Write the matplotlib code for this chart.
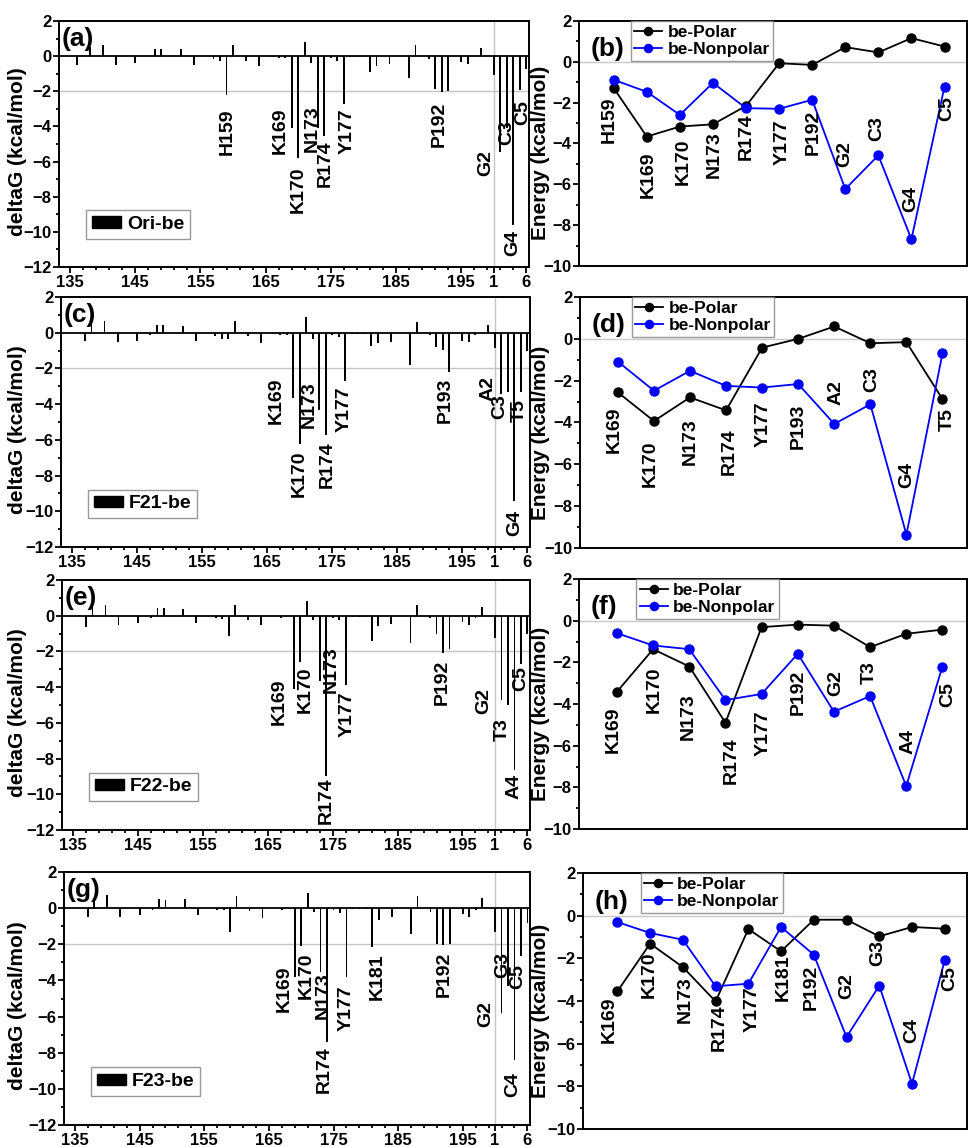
import matplotlib
matplotlib.use('Agg')
import matplotlib.pyplot as plt
from matplotlib.patches import Patch
from matplotlib.legend_handler import HandlerLine2D
from matplotlib.ticker import MultipleLocator, FixedLocator
import numpy as np

plt.rcParams['font.family'] = ['Liberation Sans', 'DejaVu Sans']
plt.rcParams['font.weight'] = 'bold'
plt.rcParams['axes.linewidth'] = 1.4

# ---------------- data: per-residue decomposition (left panels) ----------------
res_a = [136, 138, 140, 142, 145, 148, 149, 152, 154, 157, 158, 159, 160, 162, 164, 166, 167, 168,
         169, 170, 171, 172, 173, 174, 175, 176, 177, 178, 179, 180, 181, 182, 184, 187, 188, 190,
         191, 192, 193, 195, 196, 198]
dg_a = [-0.5, 0.52, 0.63, -0.5, -0.4, 0.42, 0.42, 0.4, -0.5, -0.17, -0.27, -2.23, 0.62, -0.25, -0.56, -0.03, -0.08, -0.1,
        -4.1, -5.8, 0.79, -0.37, -4.1, -4.55, -0.1, -0.25, -2.75, -0.05, -0.05, -0.05, -0.92, -0.54, -0.46, -1.27, 0.62, -0.17,
        -1.85, -2.04, -1.96, -0.31, -0.44, 0.46]
nt_a = [-1.1, -5.45, -4.1, -9.6, -1.95, -0.75]

res_c = [137, 138, 140, 142, 145, 147, 148, 149, 152, 154, 157, 158, 159, 160, 162, 164, 167, 168,
         169, 170, 171, 172, 173, 174, 175, 176, 177, 178, 179, 180, 181, 182, 184, 187, 188, 190,
         191, 192, 193, 195, 196, 197, 199]
dg_c = [-0.48, 0.53, 0.65, -0.53, -0.44, -0.1, 0.46, 0.46, 0.4, -0.44, -0.19, -0.33, -0.33, 0.67, -0.19, -0.57, -0.1, -0.1,
        -3.65, -6.25, 0.88, -0.33, -4.35, -5.7, -0.15, -0.25, -2.7, -0.05, -0.05, -0.05, -0.72, -0.59, -0.5, -1.83, 0.6, -0.15,
        -0.78, -0.95, -2.2, -0.46, -0.53, -0.1, 0.45]
nt_c = [-0.84, -3.45, -3.3, -9.45, -3.3, -1.0]

res_e = [137, 138, 140, 142, 145, 147, 148, 149, 152, 154, 157, 158, 159, 160, 162, 164, 167,
         169, 170, 171, 172, 173, 174, 175, 176, 177, 178, 179, 180, 181, 182, 184, 187, 188, 190,
         191, 192, 193, 195, 196, 197, 198]
dg_e = [-0.64, 0.58, 0.62, -0.5, -0.41, -0.1, 0.41, 0.41, 0.4, -0.41, -0.1, -0.2, -1.12, 0.58, -0.22, -0.5, -0.13,
        -4.08, -2.6, 0.84, -0.22, -3.65, -8.95, -0.13, -0.26, -3.9, -0.05, -0.05, -0.05, -1.42, -0.6, -0.49, -1.5, 0.58, -0.13,
        -1.0, -2.1, -1.85, -0.36, -0.5, -0.13, 0.49]
nt_e = [-1.25, -4.7, -5.0, -8.65, -2.7, -1.0]

res_g = [137, 138, 140, 142, 145, 147, 148, 149, 152, 154, 157, 158, 159, 160, 162, 164, 167,
         169, 170, 171, 172, 173, 174, 175, 176, 177, 178, 179, 180, 181, 182, 184, 187, 188, 190,
         191, 192, 193, 195, 196, 197, 198]
dg_g = [-0.5, 0.55, 0.7, -0.5, -0.4, -0.1, 0.5, 0.44, 0.5, -0.4, -0.1, -0.1, -1.33, 0.65, -0.15, -0.53, -0.1,
        -3.83, -2.1, 0.84, -0.19, -3.55, -7.4, -0.1, -0.25, -3.8, -0.05, -0.05, -0.05, -2.15, -0.63, -0.5, -1.45, 0.65, -0.19,
        -2.0, -2.05, -2.0, -0.34, -0.5, -0.1, 0.55]
nt_g = [-1.3, -5.8, -4.3, -8.4, -2.65, -0.8]

# residue labels on the bar panels
tags_a = ['H159', 'K169', 'K170', 'N173', 'R174', 'Y177', 'P192', 'G2', 'C3', 'G4', 'C5']
tags_c = ['K169', 'K170', 'N173', 'R174', 'Y177', 'P193', 'A2', 'C3', 'T5', 'G4']
tags_e = ['K169', 'K170', 'N173', 'R174', 'Y177', 'P192', 'G2', 'T3', 'C5', 'A4']
tags_g = ['K169', 'K170', 'N173', 'R174', 'Y177', 'K181', 'P192', 'G2', 'G3', 'C5', 'C4']

# ---------------- data: polar / nonpolar split (right panels) ----------------
names_b = ['H159', 'K169', 'K170', 'N173', 'R174', 'Y177', 'P192', 'G2', 'C3', 'G4', 'C5']
polar_b = [-1.29, -3.66, -3.17, -3.06, -2.16, -0.07, -0.15, 0.72, 0.46, 1.16, 0.75]
nonpolar_b = [-0.88, -1.47, -2.6, -1.03, -2.27, -2.3, -1.86, -6.23, -4.58, -8.69, -1.21]

names_d = ['K169', 'K170', 'N173', 'R174', 'Y177', 'P193', 'A2', 'C3', 'G4', 'T5']
polar_d = [-2.56, -3.93, -2.8, -3.42, -0.42, 0.0, 0.59, -0.21, -0.16, -2.88]
nonpolar_d = [-1.09, -2.48, -1.53, -2.25, -2.33, -2.16, -4.07, -3.13, -9.36, -0.7]

names_f = ['K169', 'K170', 'N173', 'R174', 'Y177', 'P192', 'G2', 'T3', 'A4', 'C5']
polar_f = [-3.41, -1.37, -2.2, -4.9, -0.31, -0.19, -0.24, -1.27, -0.63, -0.43]
nonpolar_f = [-0.6, -1.19, -1.37, -3.81, -3.52, -1.59, -4.37, -3.62, -7.94, -2.2]

names_h = ['K169', 'K170', 'N173', 'R174', 'Y177', 'K181', 'P192', 'G2', 'G3', 'C4', 'C5']
polar_h = [-3.55, -1.31, -2.41, -4.02, -0.63, -1.67, -0.19, -0.19, -0.97, -0.53, -0.61]
nonpolar_h = [-0.3, -0.81, -1.13, -3.31, -3.19, -0.53, -1.83, -5.69, -3.28, -7.88, -2.09]

# ---------------- layout (label placement, axes boxes in pixels) ----------------
# (x, top-y) of each rotated residue label, data coordinates
lab_a = [(159.1, -3.0), (167.2, -2.9), (170.0, -6.3), (172.1, -2.8), (174.1, -4.8), (177.5, -3.0),
         (191.7, -2.6), (198.7, -5.35), (202.0, -3.65), (202.9, -9.9), (204.5, -2.5)]
lab_c = [(166.4, -2.52), (170.0, -6.6), (171.4, -2.7), (174.3, -6.07), (176.9, -2.99), (192.4, -2.52),
         (198.9, -2.43), (200.7, -3.46), (203.8, -3.7), (203.0, -9.9)]
lab_e = [(166.7, -3.49), (170.8, -2.83), (174.8, -1.73), (174.0, -9.06), (177.3, -4.25), (191.9, -2.45),
         (198.2, -4.05), (201.1, -5.75), (203.9, -2.83), (202.9, -8.87)]
lab_g = [(167.3, -3.18), (170.8, -2.43), (173.4, -3.55), (173.6, -7.66), (177.0, -4.3), (181.7, -2.52),
         (192.1, -2.43), (198.6, -5.14), (201.2, -2.43), (203.5, -3.1), (202.7, -9.07)]

labx_b = [-0.13, 1.03, 2.1, 3.05, 4.01, 5.08, 6.04, 6.97, 7.96, 8.97, 10.08]
laby_b = [-1.72, -4.39, -3.74, -3.42, -2.51, -2.84, -2.35, -3.9, -2.68, -6.1, -1.7]
labx_d = [-0.11, 0.91, 2.02, 3.09, 4.02, 5.0, 6.06, 7.04, 8.01, 9.12]
laby_d = [-3.23, -4.84, -3.8, -4.28, -3.0, -3.08, -1.96, -1.33, -5.88, -3.33]
labx_f = [-0.11, 1.04, 1.96, 3.16, 4.03, 5.0, 6.06, 6.98, 8.04, 9.14]
laby_f = [-4.13, -2.2, -3.49, -5.58, -4.29, -2.36, -2.36, -1.96, -5.18, -2.93]
labx_h = [-0.25, 0.98, 2.07, 3.12, 4.12, 5.07, 5.91, 7.01, 7.96, 9.0, 10.15]
laby_h = [-3.78, -1.67, -2.84, -4.17, -3.31, -1.83, -2.3, -2.69, -1.13, -4.8, -2.38]

W, H = 970, 1147
fig = plt.figure(figsize=(W / 100, H / 100), dpi=100)


def px_axes(l, t, r, b):
    return fig.add_axes([l / W, 1 - b / H, (r - l) / W, (b - t) / H])


def style_ticks(ax):
    ax.tick_params(which='both', direction='out', width=1.3, labelsize=12, top=False, right=False)
    ax.tick_params(which='major', length=4.5)
    ax.tick_params(which='minor', length=2.5)
    ax.tick_params(axis='x', pad=1.5)
    ax.tick_params(axis='y', pad=1)
    for t in ax.get_xticklabels() + ax.get_yticklabels():
        t.set_fontweight('bold')


class EndMarker(HandlerLine2D):
    # Origin-style legend sample: marker sits near the right end of the line
    def get_xdata(self, legend, xdescent, ydescent, width, height, fontsize):
        return [-xdescent, -xdescent + width], [-xdescent + 0.8 * width]


NT_START = 200  # x position of nucleotide 1


def bar_panel(box, res, dg, nt, legend_name, letter, tags, labpos):
    ax = px_axes(*box)
    nt_x = np.arange(NT_START, NT_START + len(nt))
    ax.axhline(-2, color='#c4c4c4', lw=1.0, zorder=0)
    ax.axvline(NT_START, color='#c4c4c4', lw=1.0, zorder=0)
    ax.bar(res, dg, width=0.28, color='black', zorder=2)
    ax.bar(nt_x, nt, width=0.28, color='black', zorder=2)
    ax.axhline(0, color='black', lw=1.3, zorder=3)
    ax.set_xlim(133.3, 205.4)
    ax.set_ylim(-12, 2)
    ax.set_xticks(list(range(135, 196, 10)) + [NT_START, NT_START + 5])
    ax.set_xticklabels([str(v) for v in range(135, 196, 10)] + ['1', '6'])
    ax.xaxis.set_minor_locator(FixedLocator(np.arange(133, 206, 2)))
    ax.yaxis.set_major_locator(MultipleLocator(2))
    ax.yaxis.set_minor_locator(MultipleLocator(1))
    style_ticks(ax)
    ax.set_ylabel('deltaG (kcal/mol)', fontsize=15, fontweight='bold')
    l, t, r, b = box
    # right edge of the rotated label sits at this pixel column
    ax.yaxis.set_label_coords((27 - l) / (r - l), 0.47)
    ax.text(0.006, 0.975, letter, transform=ax.transAxes, fontsize=19, fontweight='bold', va='top', ha='left')
    for name, (x, y) in zip(tags, labpos):
        ax.text(x, y, name, rotation=90, ha='center', va='top', fontsize=14, fontweight='bold', zorder=4)
    leg = ax.legend(handles=[Patch(facecolor='black', edgecolor='black', label=legend_name)],
                    loc='lower left', bbox_to_anchor=(0.058, 0.115), frameon=True, fancybox=False,
                    prop={'size': 14, 'weight': 'bold'}, handlelength=1.5, handleheight=0.5,
                    handletextpad=0.3, borderpad=0.3, borderaxespad=0)
    leg.get_frame().set_edgecolor('#808080')
    leg.get_frame().set_linewidth(1.0)
    return ax


def line_panel(box, names, polar, nonpolar, letter, labx, laby, leg_x):
    ax = px_axes(*box)
    idx = np.arange(len(names))
    ax.axhline(0, color='#c8c8c8', lw=1.0, zorder=0)
    l1, = ax.plot(idx, polar, '-o', color='black', ms=6.5, lw=1.3, label='be-Polar', zorder=3)
    l2, = ax.plot(idx, nonpolar, '-o', color='#0000ff', ms=6.5, lw=1.3, label='be-Nonpolar', zorder=3)
    ax.set_xlim(-1.05, len(names) - 0.32)
    ax.set_ylim(-10, 2)
    ax.set_xticks([])
    ax.yaxis.set_major_locator(MultipleLocator(2))
    ax.yaxis.set_minor_locator(MultipleLocator(1))
    style_ticks(ax)
    ax.set_ylabel('Energy (kcal/mol)', fontsize=15, fontweight='bold')
    l, t, r, b = box
    ax.yaxis.set_label_coords((550 - l) / (r - l), 0.46)
    ax.text(0.03, 0.935, letter, transform=ax.transAxes, fontsize=19, fontweight='bold', va='top', ha='left')
    for name, x, y in zip(names, labx, laby):
        ax.text(x, y, name, rotation=90, ha='center', va='top', fontsize=14, fontweight='bold', zorder=4)
    leg = ax.legend(handles=[l1, l2], loc='upper left', bbox_to_anchor=(leg_x, 1.0), frameon=True,
                    fancybox=False, prop={'size': 12.5, 'weight': 'bold'}, handlelength=1.6,
                    handletextpad=0.3, borderpad=0.2, labelspacing=0.15, borderaxespad=0,
                    markerscale=0.9, handler_map={l1: EndMarker(), l2: EndMarker()})
    leg.get_frame().set_edgecolor('#808080')
    leg.get_frame().set_linewidth(1.0)
    return ax


bar_panel((59, 21, 529, 267), res_a, dg_a, nt_a, 'Ori-be', '(a)', tags_a, lab_a)
bar_panel((61, 297, 530, 547), res_c, dg_c, nt_c, 'F21-be', '(c)', tags_c, lab_c)
bar_panel((62, 580, 530, 830), res_e, dg_e, nt_e, 'F22-be', '(e)', tags_e, lab_e)
bar_panel((64, 872, 530, 1125), res_g, dg_g, nt_g, 'F23-be', '(g)', tags_g, lab_g)

line_panel((579, 21, 967, 266), names_b, polar_b, nonpolar_b, '(b)', labx_b, laby_b, 0.134)
line_panel((580, 297, 967, 548), names_d, polar_d, nonpolar_d, '(d)', labx_d, laby_d, 0.134)
line_panel((579, 579, 967, 829), names_f, polar_f, nonpolar_f, '(f)', labx_f, laby_f, 0.148)
line_panel((583, 873, 967, 1129), names_h, polar_h, nonpolar_h, '(h)', labx_h, laby_h, 0.15)

fig.savefig('out.png', dpi=100)
